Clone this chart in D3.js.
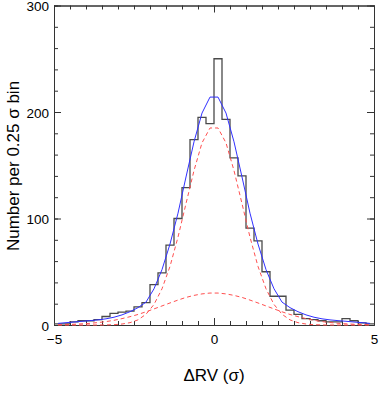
<!DOCTYPE html>
<html><head><meta charset="utf-8">
<script src="https://cdn.jsdelivr.net/npm/d3@7"></script>
<style>body{margin:0;background:#fff}svg{display:block}text{font-family:"Liberation Sans",Arial,Helvetica,sans-serif}</style>
</head><body><svg id="c" width="382" height="393"></svg>
<script>
// histogram bins (left edges, 0.25 sigma wide)
const binLefts = [-5,-4.75,-4.5,-4.25,-4,-3.75,-3.5,-3.25,-3,-2.75,-2.5,-2.25,-2,-1.75,-1.5,-1.25,-1,-0.75,-0.5,-0.25,
                  0,0.25,0.5,0.75,1,1.25,1.5,1.75,2,2.25,2.5,2.75,3,3.25,3.5,3.75,4,4.25,4.5,4.75];
const counts = [1,1,3,4,4,5,8,11,12,13,17,21,38,49,75,100,129,174,195,189,
                250,193,157,140,91,79,50,27,27,14,10,6,5,4,3,3,6,4,2,1];
// fit curves sampled at bin centres
const curveX = [-4.875,-4.625,-4.375,-4.125,-3.875,-3.625,-3.375,-3.125,-2.875,-2.625,-2.375,-2.125,-1.875,-1.625,-1.375,-1.125,-0.875,-0.625,-0.375,-0.125,
                0.125,0.375,0.625,0.875,1.125,1.375,1.625,1.875,2.125,2.375,2.625,2.875,3.125,3.375,3.625,3.875,4.125,4.375,4.625,4.875];
const totalFit = [1.5,2.2,2.8,3.5,4.1,4.8,5.8,7.3,9.5,12.5,16.3,21.5,34,52,76,105,139,172,199,214,
                  214,199,172,139,105,76,52,34,21.5,16.3,12.5,9.5,7.3,5.8,4.8,4.1,3.5,2.8,2.2,1.5];
const narrowComp = [0,0,0,0,0,0,0.1,0.3,0.9,2.2,4.8,10.1,19.3,34,55,82.5,114,145,171,185,
                    185,171,145,114,82.5,55,34,19.3,10.1,4.8,2.2,0.9,0.3,0.1,0,0,0,0,0,0];
const broadComp = [0.3,0.5,0.7,1.1,1.6,2.3,3.2,4.4,6.0,7.8,9.9,12.4,15.1,17.9,20.7,23.4,25.9,27.8,29.2,30,
                   30,29.2,27.8,25.9,23.4,20.7,17.9,15.1,12.4,9.9,7.8,6.0,4.4,3.2,2.3,1.6,1.1,0.7,0.5,0.3];
const xMajorTicks = [-5,0,5];
const xMinorTicks = [-5,-4.5,-4,-3.5,-3,-2.5,-2,-1.5,-1,-0.5,0,0.5,1,1.5,2,2.5,3,3.5,4,4.5,5];
const yMajorTicks = [0,100,200,300];
const yMinorTicks = [0,20,40,60,80,100,120,140,160,180,200,220,240,260,280,300];
const xTitle = "\u0394RV (\u03c3)";
const yTitle = "Number per 0.25 \u03c3 bin";

const svg = d3.select("#c");
const x = d3.scaleLinear().domain([-5,5]).range([54,374]);
const y = d3.scaleLinear().domain([0,300]).range([325,5.5]);
const axisColor = "#333";
const fmt = d => d < 0 ? "\u2212" + Math.abs(d) : String(d);

function styleAxis(g){
  g.selectAll("path,line").attr("stroke", axisColor).attr("stroke-width", 1);
  g.selectAll("text").attr("fill", "#000").style("font-size","13.5px").attr("font-family",'"Liberation Sans",Arial,sans-serif');
}
// bottom
svg.append("g").attr("transform","translate(0,325)")
  .call(d3.axisBottom(x).tickValues(xMinorTicks).tickSize(-4).tickSizeOuter(0).tickFormat("")).call(styleAxis);
svg.append("g").attr("transform","translate(0,325)")
  .call(d3.axisBottom(x).tickValues(xMajorTicks).tickSize(-7).tickSizeOuter(0).tickPadding(9).tickFormat(fmt)).call(styleAxis);
// top
svg.append("g").attr("transform","translate(0,5.5)")
  .call(d3.axisTop(x).tickValues(xMinorTicks).tickSize(-4).tickSizeOuter(0).tickFormat("")).call(styleAxis);
svg.append("g").attr("transform","translate(0,5.5)")
  .call(d3.axisTop(x).tickValues(xMajorTicks).tickSize(-7).tickSizeOuter(0).tickFormat("")).call(styleAxis);
// left
svg.append("g").attr("transform","translate(54,0)")
  .call(d3.axisLeft(y).tickValues(yMinorTicks).tickSize(-4).tickSizeOuter(0).tickFormat("")).call(styleAxis);
const yLab = svg.append("g").attr("transform","translate(54,0)")
  .call(d3.axisLeft(y).tickValues(yMajorTicks).tickSize(-7).tickSizeOuter(0).tickPadding(5).tickFormat(fmt)).call(styleAxis);
yLab.selectAll("text").attr("dy","0.4em");
// right
svg.append("g").attr("transform","translate(374,0)")
  .call(d3.axisRight(y).tickValues(yMinorTicks).tickSize(-4).tickSizeOuter(0).tickFormat("")).call(styleAxis);
svg.append("g").attr("transform","translate(374,0)")
  .call(d3.axisRight(y).tickValues(yMajorTicks).tickSize(-7).tickSizeOuter(0).tickFormat("")).call(styleAxis);

// histogram step outline
const histPts = binLefts.map((b,i)=>[b,counts[i]]);
histPts.push([5, counts[counts.length-1]]);
svg.append("path")
  .attr("d", d3.line().x(d=>x(d[0])).y(d=>y(d[1])).curve(d3.curveStepAfter)(histPts))
  .attr("fill","none").attr("stroke","#4a4a4a").attr("stroke-width",1.3);

const line = d3.line().x((d,i)=>x(curveX[i])).y(d=>y(d));
svg.append("path").attr("d", line(narrowComp)).attr("fill","none")
  .attr("stroke","#ff5050").attr("stroke-width",1).attr("stroke-dasharray","4,3");
svg.append("path").attr("d", line(broadComp)).attr("fill","none")
  .attr("stroke","#ff5050").attr("stroke-width",1).attr("stroke-dasharray","4,3");
svg.append("path").attr("d", line(totalFit)).attr("fill","none")
  .attr("stroke","#3030ff").attr("stroke-width",1);

// titles
svg.append("text").attr("x",214).attr("y",381).attr("text-anchor","middle")
  .style("font-size","17px").text(xTitle);
svg.append("text").attr("transform","translate(19,166) rotate(-90)").attr("text-anchor","middle")
  .style("font-size","17px").text(yTitle);
</script></body></html>
